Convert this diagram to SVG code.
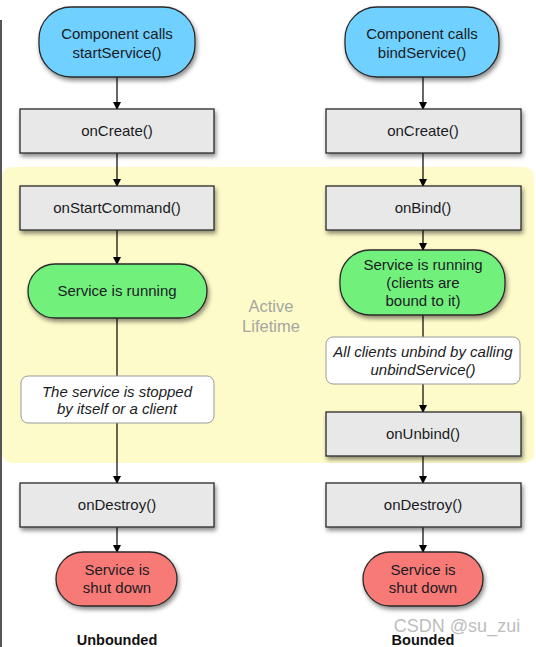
<svg xmlns="http://www.w3.org/2000/svg" width="536" height="647" viewBox="0 0 536 647">
<defs>
<style>
.t{font-family:"Liberation Sans",Arial,sans-serif;font-size:15px;fill:#1b1b24;text-anchor:middle}
.i{font-style:italic}
.box{fill:#e8e8e8;stroke:#2a2a2a;stroke-width:1.3}
.note{fill:#ffffff;stroke:#9a9a9a;stroke-width:1}
.blue{fill:#70d0ff;stroke:#2a2a2a;stroke-width:1.3}
.green{fill:#72f07c;stroke:#2a2a2a;stroke-width:1.3}
.red{fill:#f87a76;stroke:#2a2a2a;stroke-width:1.3}
.c{stroke:#000;stroke-width:1.2;fill:none}
</style>
<filter id="sh" x="-10%" y="-20%" width="130%" height="160%">
<feDropShadow dx="1.5" dy="3" stdDeviation="2" flood-color="#000" flood-opacity="0.45"/>
</filter>
<marker id="ar" markerWidth="8" markerHeight="9" refX="7" refY="4" orient="auto" markerUnits="userSpaceOnUse">
<path d="M0,0 L8,4 L0,8 Z" fill="#000"/>
</marker>
</defs>
<rect width="536" height="647" fill="#fff"/>
<line x1="1" y1="20" x2="1" y2="647" stroke="#555" stroke-width="2"/>
<rect x="2" y="167" width="532" height="296" rx="10" fill="#fdfbc9"/>
<g id="active-label">
<text class="t" x="271" y="312" style="fill:#a6a6a0;font-size:16.5px">Active</text>
<text class="t" x="271" y="332" style="fill:#a6a6a0;font-size:16.5px">Lifetime</text>
</g>
<g id="connectors">
<line class="c" x1="117" y1="77" x2="117" y2="109" marker-end="url(#ar)"/>
<line class="c" x1="117" y1="153" x2="117" y2="186" marker-end="url(#ar)"/>
<line class="c" x1="117" y1="230" x2="117" y2="264" marker-end="url(#ar)"/>
<line class="c" x1="117" y1="318" x2="117" y2="376"/>
<line class="c" x1="117" y1="423" x2="117" y2="483" marker-end="url(#ar)"/>
<line class="c" x1="117" y1="527" x2="117" y2="552" marker-end="url(#ar)"/>
<line class="c" x1="423" y1="77" x2="423" y2="109" marker-end="url(#ar)"/>
<line class="c" x1="423" y1="153" x2="423" y2="186" marker-end="url(#ar)"/>
<line class="c" x1="423" y1="230" x2="423" y2="250" marker-end="url(#ar)"/>
<line class="c" x1="423" y1="315" x2="423" y2="337"/>
<line class="c" x1="423" y1="384" x2="423" y2="412" marker-end="url(#ar)"/>
<line class="c" x1="423" y1="456" x2="423" y2="483" marker-end="url(#ar)"/>
<line class="c" x1="423" y1="527" x2="423" y2="552" marker-end="url(#ar)"/>
</g>
<g id="start-left">
<rect class="blue" x="39" y="7" width="156" height="70" rx="32" filter="url(#sh)"/>
<text class="t" x="117" y="39">Component calls</text>
<text class="t" x="117" y="58">startService()</text>
</g>
<g id="oncreate-left">
<rect class="box" x="20" y="109" width="194" height="44" filter="url(#sh)"/>
<text class="t" x="117" y="136">onCreate()</text>
</g>
<g id="onstartcommand">
<rect class="box" x="20" y="186" width="194" height="44" filter="url(#sh)"/>
<text class="t" x="117" y="213">onStartCommand()</text>
</g>
<g id="running-left">
<rect class="green" x="28" y="264" width="179" height="54" rx="27" filter="url(#sh)"/>
<text class="t" x="117" y="296">Service is running</text>
</g>
<g id="stopped-note">
<rect class="note" x="21" y="376" width="193" height="47" rx="7"/>
<text class="t i" x="117" y="397">The service is stopped</text>
<text class="t i" x="117" y="414">by itself or a client</text>
</g>
<g id="ondestroy-left">
<rect class="box" x="20" y="483" width="194" height="44" filter="url(#sh)"/>
<text class="t" x="117" y="510">onDestroy()</text>
</g>
<g id="shutdown-left">
<rect class="red" x="56" y="552" width="121" height="54" rx="27" filter="url(#sh)"/>
<text class="t" x="117" y="575">Service is</text>
<text class="t" x="117" y="593">shut down</text>
</g>
<g id="start-right">
<rect class="blue" x="345" y="7" width="154" height="70" rx="32" filter="url(#sh)"/>
<text class="t" x="422" y="39">Component calls</text>
<text class="t" x="422" y="58">bindService()</text>
</g>
<g id="oncreate-right">
<rect class="box" x="326" y="109" width="195" height="44" filter="url(#sh)"/>
<text class="t" x="423" y="136">onCreate()</text>
</g>
<g id="onbind">
<rect class="box" x="326" y="186" width="195" height="44" filter="url(#sh)"/>
<text class="t" x="423" y="213">onBind()</text>
</g>
<g id="running-right">
<rect class="green" x="340" y="250" width="165" height="65" rx="30" filter="url(#sh)"/>
<text class="t" x="423" y="270">Service is running</text>
<text class="t" x="423" y="288">(clients are</text>
<text class="t" x="423" y="306">bound to it)</text>
</g>
<g id="unbind-note">
<rect class="note" x="326" y="337" width="194" height="47" rx="7"/>
<text class="t i" x="423" y="357">All clients unbind by calling</text>
<text class="t i" x="423" y="375">unbindService()</text>
</g>
<g id="onunbind">
<rect class="box" x="326" y="412" width="195" height="44" filter="url(#sh)"/>
<text class="t" x="423" y="439">onUnbind()</text>
</g>
<g id="ondestroy-right">
<rect class="box" x="326" y="483" width="195" height="44" filter="url(#sh)"/>
<text class="t" x="423" y="510">onDestroy()</text>
</g>
<g id="shutdown-right">
<rect class="red" x="363" y="552" width="120" height="54" rx="27" filter="url(#sh)"/>
<text class="t" x="423" y="575">Service is</text>
<text class="t" x="423" y="593">shut down</text>
</g>
<text class="t" x="117" y="645" style="font-weight:bold;fill:#111;font-size:14.5px">Unbounded</text>
<text class="t" x="423" y="645" style="font-weight:bold;fill:#111;font-size:14.5px">Bounded</text>
<text class="t" x="457" y="632" style="font-size:18px;fill:#bdbdbd">CSDN @su_zui</text>
</svg>
